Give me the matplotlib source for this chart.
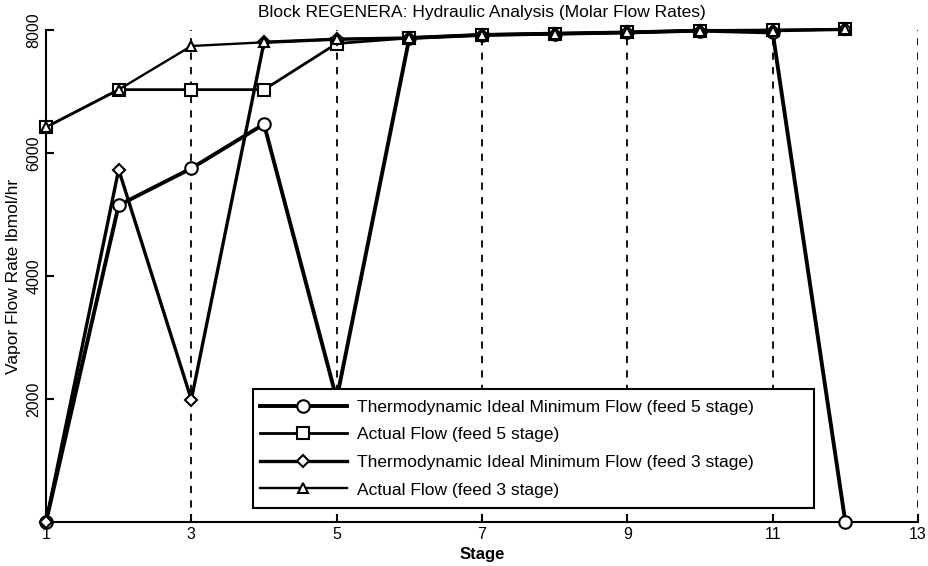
import matplotlib
matplotlib.use('Agg')
from matplotlib import pyplot as plt
from matplotlib.patches import Rectangle

plt.rcParams['font.family'] = ['Liberation Sans', 'DejaVu Sans']

stages = [1, 2, 3, 4, 5, 6, 7, 8, 9, 10, 11, 12]

ideal_feed5 = [0, 5150, 5750, 6470, 2000, 7870, 7920, 7940, 7960, 7990, 7960, 0]
actual_feed5 = [6420, 7030, 7030, 7030, 7780, 7870, 7920, 7940, 7960, 7990, 8000, 8010]
ideal_feed3 = [0, 5730, 1990, 7800, 7850, 7870, 7920, 7940, 7960, 7990, 7990, 8010]
actual_feed3 = [6420, 7030, 7740, 7800, 7850, 7870, 7920, 7940, 7960, 7990, 7990, 8010]

legend_names = [
  'Thermodynamic Ideal Minimum Flow (feed 5 stage)',
  'Actual Flow (feed 5 stage)',
  'Thermodynamic Ideal Minimum Flow (feed 3 stage)',
  'Actual Flow (feed 3 stage)',
]

xticks = [1, 3, 5, 7, 9, 11, 13]
yticks = [2000, 4000, 6000, 8000]

fig = plt.figure(figsize=(9.29, 5.66), dpi=100)
ax = fig.add_axes([46/929, 1 - 522/566, (918 - 46)/929, (522 - 30)/566])

# vertical dashed grid
for x in xticks[1:]:
  ax.plot([x, x], [0, 8000], color='black', linestyle=(0, (4, 4)), linewidth=1.3, zorder=1)

mk = dict(markerfacecolor='white', markeredgecolor='black', markeredgewidth=1.5,
          color='black', clip_on=False)
h1, = ax.plot(stages, ideal_feed5, marker='o', markersize=9, linewidth=2.8, zorder=3, **mk)
h2, = ax.plot(stages, actual_feed5, marker='s', markersize=9, linewidth=2.0, zorder=3, **mk)
h3, = ax.plot(stages, ideal_feed3, marker='D', markersize=6.5, linewidth=2.4, zorder=3, **mk)
h4, = ax.plot(stages, actual_feed3, marker='^', markersize=7.5, linewidth=1.7, zorder=3, **mk)

ax.set_xlim(1, 13)
ax.set_ylim(0, 8000)
ax.set_xticks(xticks)
ax.set_yticks(yticks)
ax.tick_params(direction='in', length=6, width=1.5, labelsize=11.5)
for lab in ax.get_yticklabels():
  lab.set_rotation(90)
  lab.set_va('center')
ax.spines['top'].set_visible(False)
ax.spines['right'].set_visible(False)
ax.spines['left'].set_linewidth(1.5)
ax.spines['bottom'].set_linewidth(1.5)

ax.set_xlabel('Stage', fontsize=12, fontweight='bold', labelpad=4)
ax.set_ylabel('Vapor Flow Rate lbmol/hr', fontsize=12.5, labelpad=4)
ax.set_title('Block REGENERA: Hydraulic Analysis (Molar Flow Rates)', fontsize=12.5, pad=9)

# legend box (MATLAB style, wider than its text)
box_x0, box_y0 = (253 - 46)/872, (522 - 508)/492
box_w, box_h = (814 - 253)/872, (508 - 389)/492
ax.add_patch(Rectangle((box_x0, box_y0), box_w, box_h, transform=ax.transAxes,
  facecolor='white', edgecolor='black', linewidth=1.5, zorder=5))

leg = ax.legend([h1, h2, h3, h4], legend_names, loc='center left',
  bbox_to_anchor=(box_x0 + 0.002, box_y0 + box_h/2), borderaxespad=0,
  fontsize=12.5, handlelength=5.0, frameon=False,
  borderpad=0.3, labelspacing=0.72, handletextpad=0.6)
leg.set_zorder(6)

plt.savefig('out.png', dpi=100)
